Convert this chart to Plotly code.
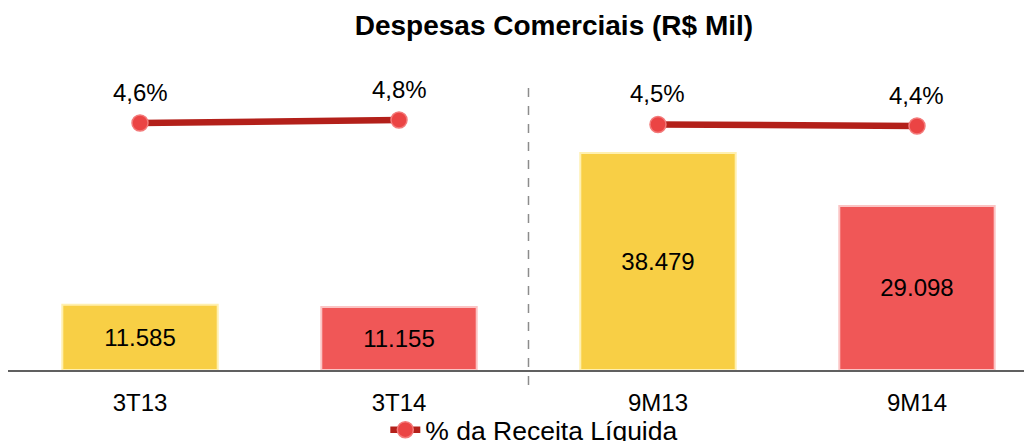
import plotly.graph_objects as go

categories = ["3T13", "3T14", "9M13", "9M14"]
despesas = [11585, 11155, 38479, 29098]
pct_receita = [4.6, 4.8, 4.5, 4.4]
bar_colors = ["#F8CF45", "#F05757", "#F8CF45", "#F05757"]
edge_colors = ["#FFF0B0", "#FBC4C4", "#FFF0B0", "#FBC4C4"]

FONT = "Liberation Sans, Arial, sans-serif"

fig = go.Figure()

fig.add_trace(go.Bar(
    x=categories, y=despesas, width=0.6,
    marker=dict(color=bar_colors, line=dict(color=edge_colors, width=2)),
    texttemplate="%{y:,.0f}", textposition="inside", insidetextanchor="middle",
    textangle=0, textfont=dict(size=24, color="black", family=FONT),
    showlegend=False, hoverinfo="skip",
))

groups = [(0, 2), (2, 4)]
for gi, (a, b) in enumerate(groups):
    fig.add_trace(go.Scatter(
        x=categories[a:b], y=pct_receita[a:b], yaxis="y2",
        mode="lines+markers",
        line=dict(color="#B3201A", width=6.5),
        marker=dict(size=16, color="#EB4444", line=dict(color="#F37A7A", width=1.5)),
        name="% da Receita Líquida", showlegend=(gi == 0),
    ))

for c, p in zip(categories, pct_receita):
    fig.add_annotation(x=c, y=p, yref="y2", text=f"{p:.1f}%".replace(".", ","),
                       showarrow=False, yshift=31,
                       font=dict(size=24, color="black", family=FONT))

fig.add_shape(type="line", xref="x", yref="paper", x0=1.5, x1=1.5,
              y0=-0.048, y1=0.91, line=dict(color="#8C8C8C", width=1.5, dash="dash"))

fig.update_layout(
    width=1032, height=441,
    margin=dict(l=0, r=0, t=52, b=79, autoexpand=False),
    paper_bgcolor="white", plot_bgcolor="white",
    separators=",.",
    title=dict(text="<b>Despesas Comerciais (R$ Mil)</b>", x=0.529, xanchor="center",
               y=0.962, yanchor="middle",
               font=dict(size=28, color="black", family=FONT)),
    xaxis=dict(range=[-0.5097, 3.475], showline=True, linecolor="#606060", linewidth=2,
               showgrid=False, ticks="", tickfont=dict(size=24, color="black", family=FONT),
               ticklabelstandoff=10),
    yaxis=dict(range=[0, 54970], visible=False, showgrid=False),
    yaxis2=dict(range=[-11.867, 8.8], overlaying="y", visible=False, showgrid=False),
    legend=dict(orientation="h", x=0.51, xanchor="center", y=-0.1935, yanchor="middle",
                font=dict(size=26.5, color="black", family=FONT), bgcolor="rgba(0,0,0,0)"),
)

fig.write_html("out.html")
